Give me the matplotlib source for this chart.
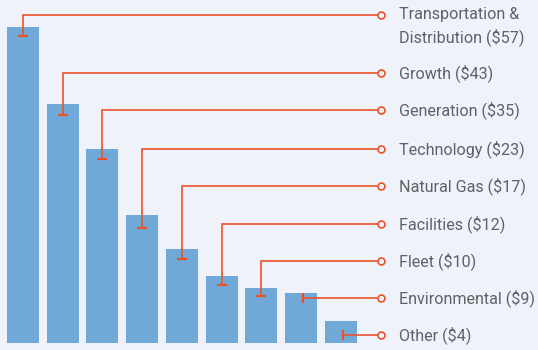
import matplotlib
matplotlib.use("Agg")
import matplotlib.pyplot as plt

categories = ["Transportation &\nDistribution", "Growth", "Generation", "Technology",
              "Natural Gas", "Facilities", "Fleet", "Environmental", "Other"]
values = [57, 43, 35, 23, 17, 12, 10, 9, 4]

BAR = "#70a9d8"
LINE = "#e8532a"
TEXT = "#5e6166"
BG = "#eff2f8"
FS = 11.6

W, H = 538, 350
fig = plt.figure(figsize=(W / 100, H / 100), dpi=100)
fig.patch.set_facecolor(BG)

# axes geometry in pixels
left_px, bottom_px, step_px = 3.1, 343.0, 39.75
px_per_unit = 5.55
n = len(values)
ax = fig.add_axes([left_px / W, (H - bottom_px) / H, n * step_px / W, bottom_px / H])
ax.set_xlim(-0.5, n - 0.5)
ax.set_ylim(0, bottom_px / px_per_unit)
ax.axis("off")
ax.patch.set_alpha(0)

ax.bar(range(n), values, width=0.805, color=BAR, zorder=1)

def px_to_x(px):
    return (px - left_px) / step_px - 0.5

def py_to_y(py):
    return (bottom_px - py) / px_per_unit

circle_x = px_to_x(381)
text_x = px_to_x(399)
label_py = [15, 73, 110, 149, 186, 224, 261, 298, 335]
cap_depth = [1.6, 1.9, 1.9, 2.3, 1.8, 1.6, 1.6, 0, 0]

for i, (cat, v) in enumerate(zip(categories, values)):
    ly = py_to_y(label_py[i])
    if i < 7:
        cy = v - cap_depth[i]
        ax.plot([i, i, circle_x], [cy, ly, ly], color=LINE, lw=1.2,
                clip_on=False, zorder=3, solid_joinstyle="miter")
        ax.plot([i], [cy], marker="_", ms=7, mew=1.6, color=LINE,
                clip_on=False, zorder=3)
    else:
        ax.plot([i + 0.05, circle_x], [ly, ly], color=LINE, lw=1.2,
                clip_on=False, zorder=3)
        ax.plot([i + 0.05], [ly], marker="|", ms=7, mew=1.6, color=LINE,
                clip_on=False, zorder=3)
    ax.plot([circle_x], [ly], marker="o", ms=5, mew=1.2, mfc=BG, mec=LINE,
            clip_on=False, zorder=4)
    if i == 0:
        ax.text(text_x, ly, "Transportation &", fontsize=FS, family="Roboto",
                color=TEXT, va="center", ha="left")
        ax.text(text_x, py_to_y(37), f"Distribution (${v})", fontsize=FS,
                family="Roboto", color=TEXT, va="center", ha="left")
    else:
        ax.text(text_x, ly, f"{cat} (${v})", fontsize=FS, family="Roboto",
                color=TEXT, va="center", ha="left")

fig.savefig("out.png", dpi=100, facecolor=BG)
